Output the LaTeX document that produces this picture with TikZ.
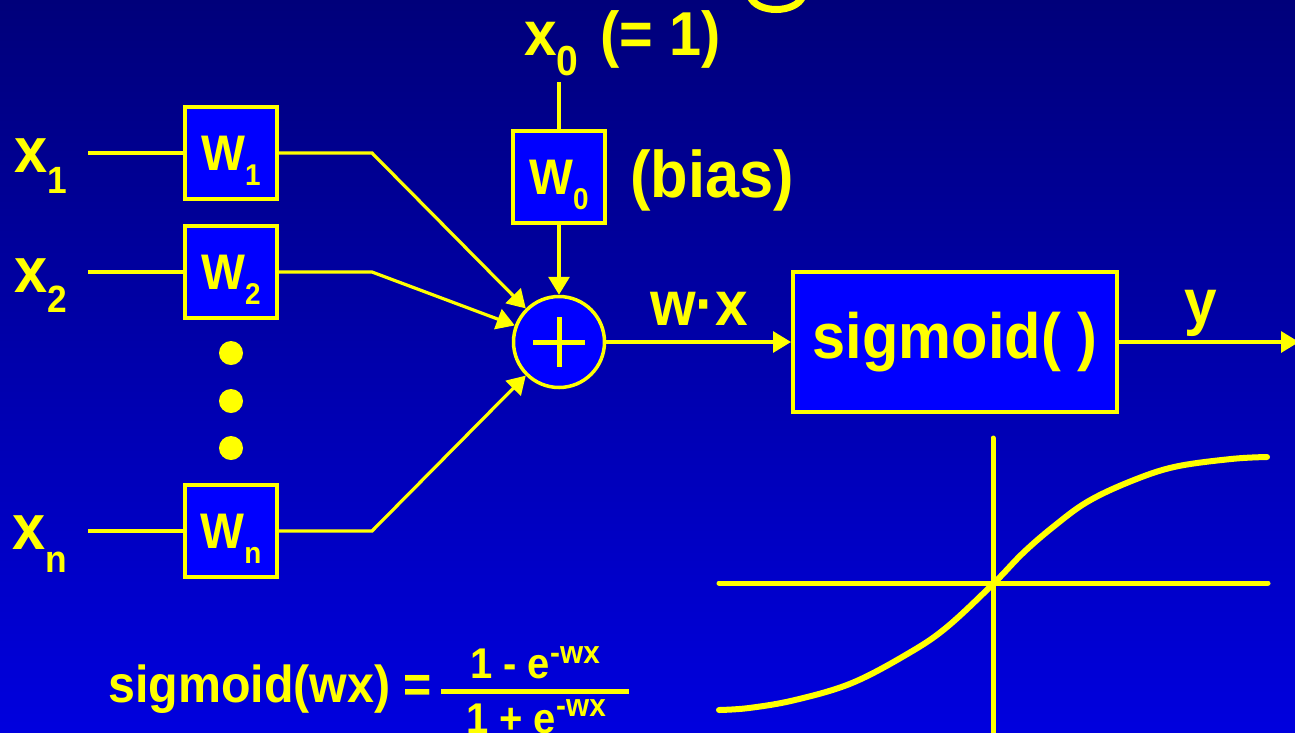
\documentclass[tikz,border=0pt]{standalone}
\usepackage{fontspec}
\setmainfont[FakeStretch=0.93]{Liberation Sans}
\usetikzlibrary{arrows.meta}
\definecolor{bgtop}{RGB}{0,0,122}
\definecolor{bgbot}{RGB}{0,0,222}
\definecolor{boxblue}{RGB}{0,0,255}
\definecolor{ylw}{RGB}{255,255,0}
\newcommand{\fs}[1]{\fontsize{#1}{#1}\selectfont}
\newcommand{\lowsub}[3]{\smash{\raisebox{-#1pt}{\fs{#2}#3}}}
\begin{document}
\begin{tikzpicture}[x=1pt,y=-1pt,
  every node/.style={text=ylw, font=\bfseries, inner sep=0pt},
  wbox/.style={draw=ylw, fill=boxblue, line width=3.5pt, minimum size=92pt},
  conn/.style={draw=ylw, line width=3.2pt},
  arr/.style={conn, -{Triangle[length=18pt,width=21pt]}},
  dotnode/.style={circle, fill=ylw, minimum size=24pt},
  axis/.style={draw=ylw, line width=5pt, line cap=round}
]
\useasboundingbox (0,0) rectangle (1295,732);
\clip (0,0) rectangle (1295,732);
\shade[top color=bgtop, bottom color=bgbot] (0,0) rectangle (1295,732);

% partial glyph of a cut-off title
\draw[ylw, line width=7pt] (750,-4) .. controls (756,14) and (796,14) .. (803,-4);

% x0 and bias
\node[anchor=base west] (x0) at (524,55) {\fs{63}x\lowsub{20}{42}{0}};
\node[anchor=base west] (eq1) at (600,55) {\fs{62}(= 1)};
\coordinate (x0end) at (559,82);
\node[wbox] (w0) at (559,177) {\fs{50}W\lowsub{15}{30}{0}};
\node[anchor=base west] (bias) at (630,197) {\fs{66}(bias)};

% inputs
\node[anchor=base west] (x1) at (14,172) {\fs{64}x\lowsub{21}{38}{1}};
\node[anchor=base west] (x2) at (14,292) {\fs{64}x\lowsub{20}{38}{2}};
\node[anchor=base west] (xn) at (12,549) {\fs{64}x\lowsub{23}{38}{n}};

\coordinate (i1) at (88,153);
\coordinate (i2) at (88,272);
\coordinate (in) at (88,531);
\coordinate (c1) at (372,153);
\coordinate (c2) at (372,272);
\coordinate (cn) at (372,531);

\node[wbox] (w1) at (231,153) {\fs{50}W\lowsub{15}{30}{1}};
\node[wbox] (w2) at (231,272) {\fs{50}W\lowsub{15}{30}{2}};
\node[wbox] (wn) at (231,531) {\fs{50}W\lowsub{15}{30}{n}};

\node[dotnode] (d1) at (231,353) {};
\node[dotnode] (d2) at (231,401) {};
\node[dotnode] (d3) at (231,448) {};

% summation
\node[circle, draw=ylw, fill=boxblue, line width=3.5pt, minimum size=91pt] (sum) at (559,342) {};
\draw[ylw, line width=5pt] ([xshift=-26pt]sum.center) -- ([xshift=26pt]sum.center);
\draw[ylw, line width=5pt] ([yshift=25pt]sum.center) -- ([yshift=-25pt]sum.center);

% sigmoid box
\node[draw=ylw, fill=boxblue, line width=4pt, minimum width=324pt, minimum height=140pt] (sig) at (955,342) {\fs{64}sigmoid( )};
\coordinate (out) at (1299,342);

\node[anchor=base west] (wx) at (650,325) {\fs{63}w·x};
\node[anchor=base west] (yl) at (1184,323) {\fs{63}y};

% connectors
\draw[conn] (x0end) -- (w0);
\draw[arr] (w0) -- (sum);
\draw[conn] (i1) -- (w1);
\draw[conn] (i2) -- (w2);
\draw[conn] (in) -- (wn);
\draw[arr] (w1) -- (c1) -- (sum);
\draw[arr] (w2) -- (c2) -- (sum);
\draw[arr] (wn) -- (cn) -- (sum);
\draw[arr] (sum) -- (sig);
\draw[arr] (sig) -- (out);

% formula
\node[anchor=base west] (sgf) at (108,702) {\fs{52}sigmoid(wx) =};
\node[anchor=base] (num) at (535,678) {\fs{43}1 - e\raisebox{15pt}{\fs{32}-wx}};
\node[anchor=base] (den) at (536,733) {\fs{43}1 + e\raisebox{17pt}{\fs{32}-wx}};
\draw[ylw, line width=5pt] (441,691) -- (629,691);

% sigmoid plot
\draw[axis] (719,583) -- (1268,583);
\draw[axis] (993,438) -- (993,736);
\draw[ylw, line width=6pt, line cap=round, line join=round] plot[smooth, tension=0.6] coordinates {(719,710) (749,708) (795,700) (852,683) (909,653) (947,627) (994,583) (1023,553) (1053,527) (1087,502) (1129,482) (1174,467) (1231,459) (1267,457)};
\end{tikzpicture}
\end{document}
